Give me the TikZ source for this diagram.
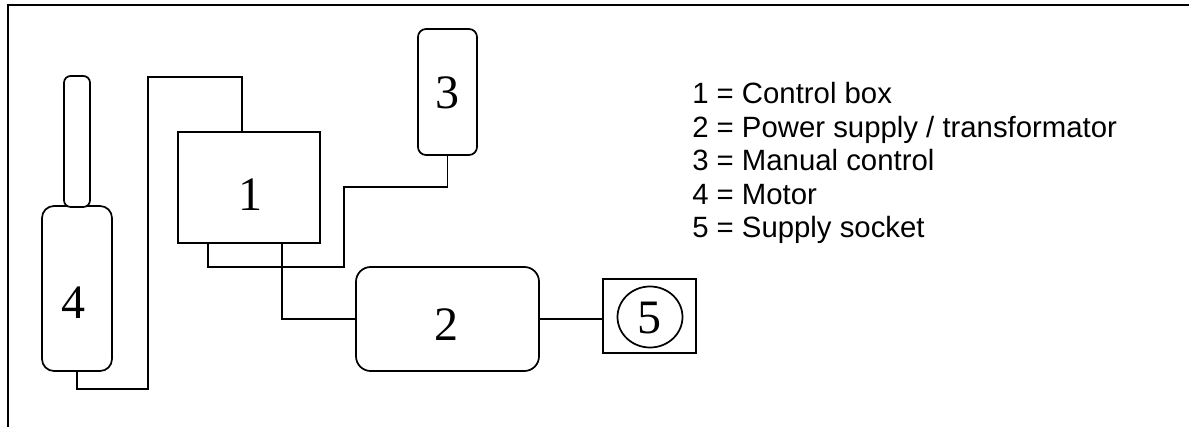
\documentclass[tikz,border=0pt]{standalone}
\usepackage{fontspec}
\setmainfont{Liberation Sans}
\newfontfamily\tnr{Liberation Serif}
\usetikzlibrary{calc,shapes.geometric}
\tikzset{
  part/.style={draw=black, line width=1.3pt, fill=white, inner sep=0pt, outer sep=0pt},
  wire/.style={draw=black, line width=1.3pt},
  frameline/.style={draw=black, line width=2pt},
  digit/.style={font=\tnr\fontsize{36}{40}\selectfont, inner sep=0pt},
  legend/.style={font=\fontsize{22}{26}\selectfont, inner sep=0pt, anchor=base west}
}
\begin{document}
\begin{tikzpicture}[x=0.75pt, y=-0.75pt]
\useasboundingbox (0,0) rectangle (1189,427);
% frame
\draw[frameline] (8,427) -- (8,5) -- (1189,5);
% motor
\node[part, rounded corners=9pt, minimum width=52.5pt, minimum height=123.75pt] (motor) at (77,288.5) {};
\node[part, rounded corners=5pt, minimum width=19.5pt, minimum height=98.25pt] (rod) at (77,141.5) {};
\node[digit] (l4) at (73,303) {4};
% control box
\node[part, minimum width=106.5pt, minimum height=83.25pt] (box1) at (249,187.5) {};
\node[digit] (l1) at (250,194.5) {1};
% manual control
\node[part, rounded corners=6pt, minimum width=44.25pt, minimum height=94.5pt] (box3) at (447.5,92) {};
\node[digit] (l3) at (447,93) {3};
% power supply
\node[part, rounded corners=11pt, minimum width=137.25pt, minimum height=78pt] (box2) at (447.5,319) {};
\node[digit] (l2) at (446,324.5) {2};
% supply socket
\node[part, minimum width=69.75pt, minimum height=55.5pt] (box5) at (649.5,316) {};
\node[draw=black, line width=1.3pt, ellipse, minimum width=48.75pt, minimum height=45.75pt, inner sep=0pt] (sock) at (650,317) {};
\node[digit] (l5) at (649,318) {5};
% wires
\coordinate (wa) at (148,389);
\coordinate (wb) at (148,77);
\draw[wire] (motor.south) |- (wa) -- (wb) -| ([xshift=-5.25pt]box1.north);
\coordinate (wc) at (344,267);
\coordinate (wd) at (344,187);
\draw[wire] ([xshift=-30.75pt]box1.south) |- (wc) -- (wd) -| (box3.south);
\draw[wire] ([xshift=24.75pt]box1.south) |- (box2.west);
\draw[wire] (box2.east) -- (box2.east -| box5.west);
% legend
\node[legend] (leg1) at (692,104) {1 = Control box};
\node[legend] (leg2) at (692,137.5) {2 = Power supply / transformator};
\node[legend] (leg3) at (692,171) {3 = Manual control};
\node[legend] (leg4) at (692,204.5) {4 = Motor};
\node[legend] (leg5) at (692,238) {5 = Supply socket};
\end{tikzpicture}
\end{document}
